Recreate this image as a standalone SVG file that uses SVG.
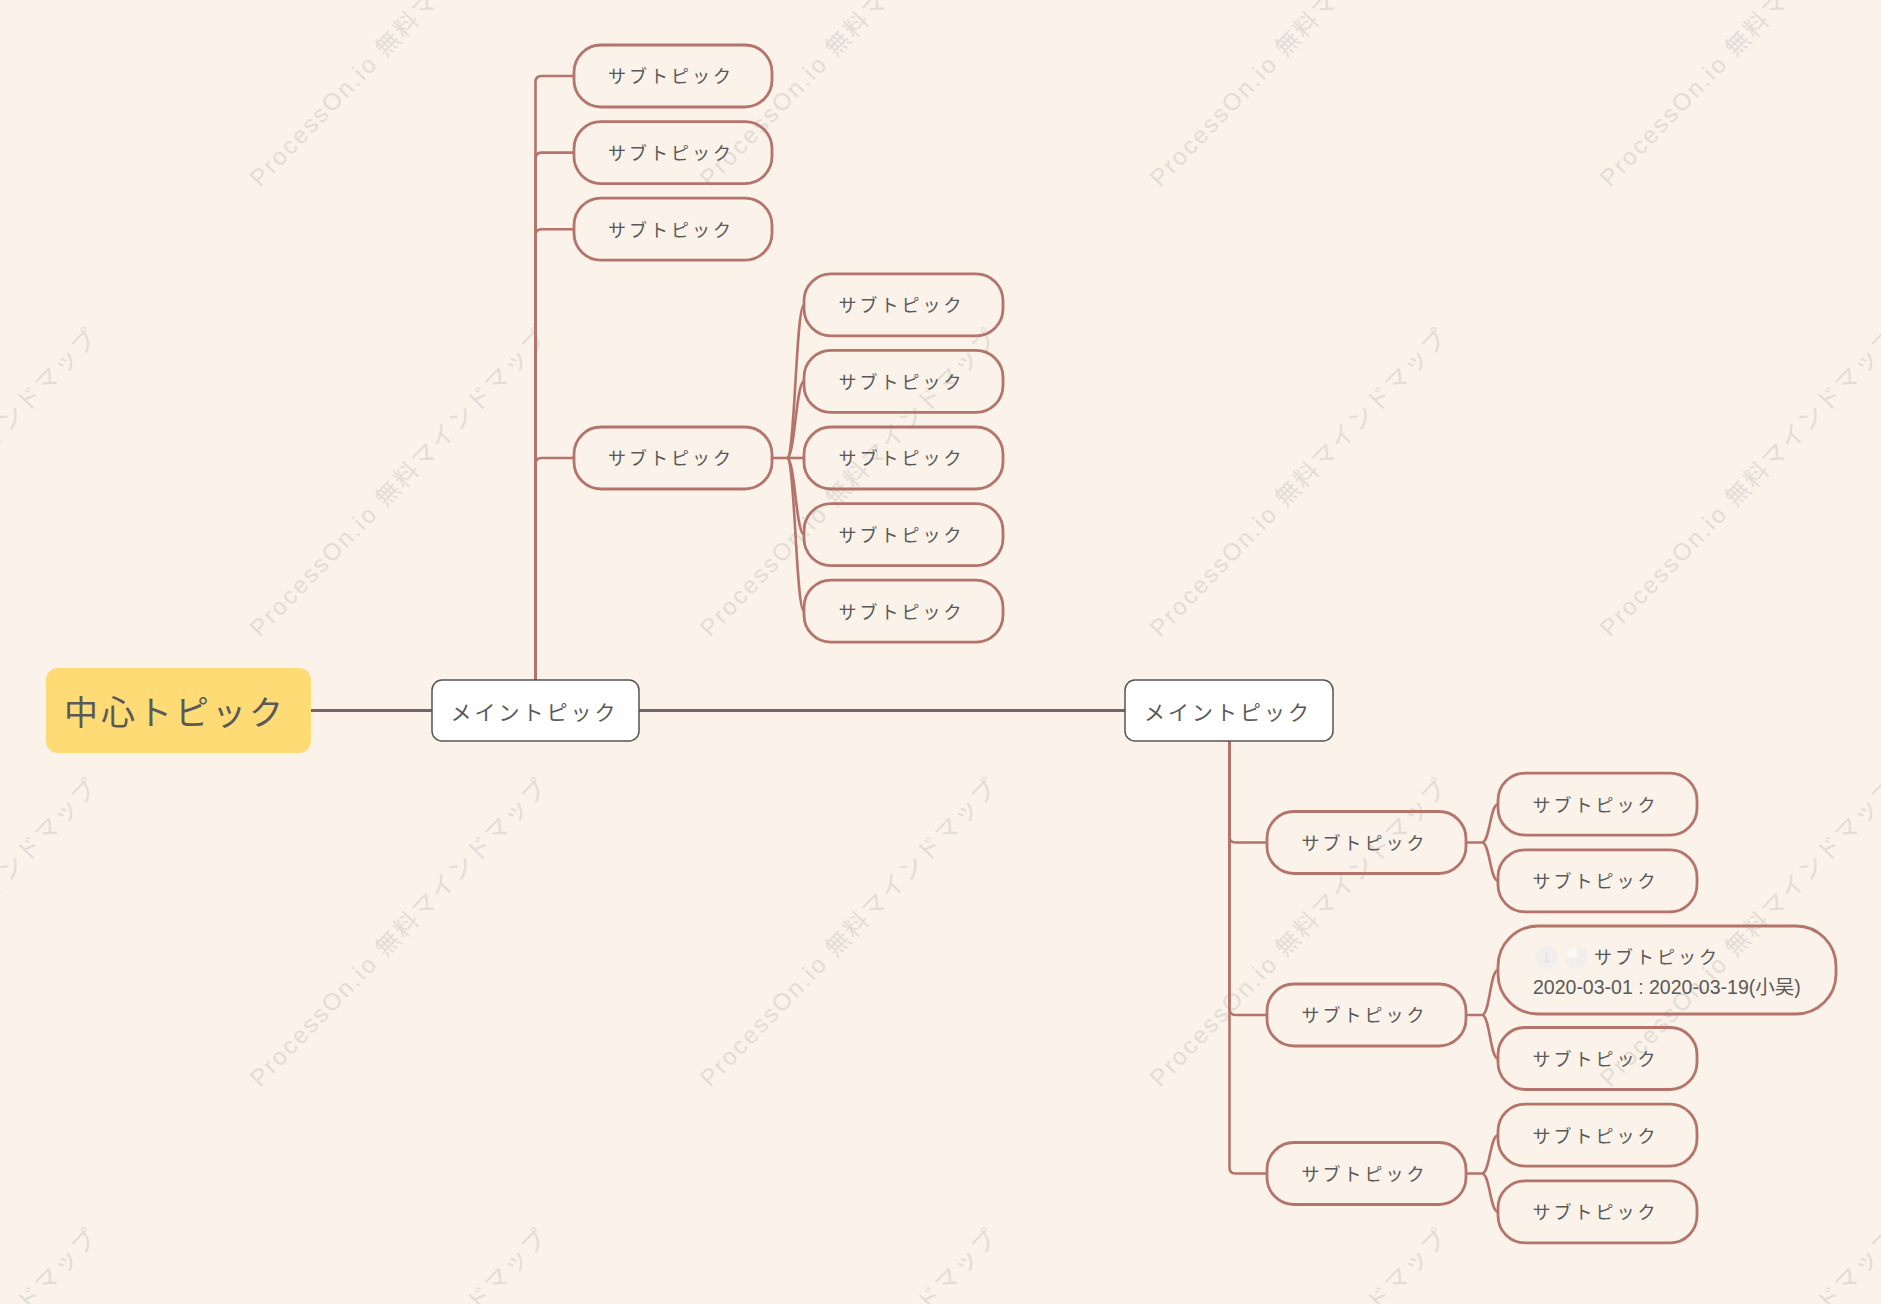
<svg xmlns="http://www.w3.org/2000/svg" width="1881" height="1304" viewBox="0 0 1881 1304">
<defs>
<style>
.wm{font-family:"Liberation Sans","Noto Sans CJK JP",sans-serif;font-size:24px;fill:#e2ddd6}
.pill{fill:none;stroke:#b4736b;stroke-width:2.8}
.sub{font-family:"Noto Sans CJK JP","Liberation Sans",sans-serif;font-size:18px;fill:#595959;letter-spacing:3px;text-anchor:middle}
.main{fill:#ffffff;stroke:#555555;stroke-width:1.5}
.maint{font-family:"Noto Sans CJK JP","Liberation Sans",sans-serif;font-size:21px;fill:#595959;letter-spacing:3px;text-anchor:middle}
.br{fill:none;stroke:#b4736b;stroke-width:2.6}
.trunk{fill:none;stroke:#7e5f65;stroke-width:3}
</style>
</defs>
<rect x="0" y="0" width="1881" height="1304" fill="#fbf2ea"/>
<g id="watermarks">
<text class="wm" transform="translate(-190,188) rotate(-46)" textLength="415" lengthAdjust="spacing">ProcessOn.io 無料マインドマップ</text>
<text class="wm" transform="translate(260,188) rotate(-46)" textLength="415" lengthAdjust="spacing">ProcessOn.io 無料マインドマップ</text>
<text class="wm" transform="translate(710,188) rotate(-46)" textLength="415" lengthAdjust="spacing">ProcessOn.io 無料マインドマップ</text>
<text class="wm" transform="translate(1160,188) rotate(-46)" textLength="415" lengthAdjust="spacing">ProcessOn.io 無料マインドマップ</text>
<text class="wm" transform="translate(1610,188) rotate(-46)" textLength="415" lengthAdjust="spacing">ProcessOn.io 無料マインドマップ</text>
<text class="wm" transform="translate(-190,638) rotate(-46)" textLength="415" lengthAdjust="spacing">ProcessOn.io 無料マインドマップ</text>
<text class="wm" transform="translate(260,638) rotate(-46)" textLength="415" lengthAdjust="spacing">ProcessOn.io 無料マインドマップ</text>
<text class="wm" transform="translate(710,638) rotate(-46)" textLength="415" lengthAdjust="spacing">ProcessOn.io 無料マインドマップ</text>
<text class="wm" transform="translate(1160,638) rotate(-46)" textLength="415" lengthAdjust="spacing">ProcessOn.io 無料マインドマップ</text>
<text class="wm" transform="translate(1610,638) rotate(-46)" textLength="415" lengthAdjust="spacing">ProcessOn.io 無料マインドマップ</text>
<text class="wm" transform="translate(-190,1088) rotate(-46)" textLength="415" lengthAdjust="spacing">ProcessOn.io 無料マインドマップ</text>
<text class="wm" transform="translate(260,1088) rotate(-46)" textLength="415" lengthAdjust="spacing">ProcessOn.io 無料マインドマップ</text>
<text class="wm" transform="translate(710,1088) rotate(-46)" textLength="415" lengthAdjust="spacing">ProcessOn.io 無料マインドマップ</text>
<text class="wm" transform="translate(1160,1088) rotate(-46)" textLength="415" lengthAdjust="spacing">ProcessOn.io 無料マインドマップ</text>
<text class="wm" transform="translate(1610,1088) rotate(-46)" textLength="415" lengthAdjust="spacing">ProcessOn.io 無料マインドマップ</text>
<text class="wm" transform="translate(-190,1538) rotate(-46)" textLength="415" lengthAdjust="spacing">ProcessOn.io 無料マインドマップ</text>
<text class="wm" transform="translate(260,1538) rotate(-46)" textLength="415" lengthAdjust="spacing">ProcessOn.io 無料マインドマップ</text>
<text class="wm" transform="translate(710,1538) rotate(-46)" textLength="415" lengthAdjust="spacing">ProcessOn.io 無料マインドマップ</text>
<text class="wm" transform="translate(1160,1538) rotate(-46)" textLength="415" lengthAdjust="spacing">ProcessOn.io 無料マインドマップ</text>
<text class="wm" transform="translate(1610,1538) rotate(-46)" textLength="415" lengthAdjust="spacing">ProcessOn.io 無料マインドマップ</text>
</g>
<g id="connectors">
<path class="trunk" d="M311 710.5 H432"/>
<path class="trunk" d="M639 710.5 H1125"/>
<path class="br" d="M535.5 680 V82 Q535.5 76 541.5 76 H574"/>
<path class="br" d="M535.5 680 V158.6 Q535.5 152.6 541.5 152.6 H574"/>
<path class="br" d="M535.5 680 V235.2 Q535.5 229.2 541.5 229.2 H574"/>
<path class="br" d="M535.5 680 V464 Q535.5 458 541.5 458 H574"/>
<path class="br" d="M772 458 H787"/>
<path class="br" d="M787 458 C795 458 796 304.8 804 304.8"/>
<path class="br" d="M787 458 C795 458 796 381.4 804 381.4"/>
<path class="br" d="M787 458 H804"/>
<path class="br" d="M787 458 C795 458 796 534.6 804 534.6"/>
<path class="br" d="M787 458 C795 458 796 611.2 804 611.2"/>
<path class="br" d="M1229.5 741 V836.5 Q1229.5 842.5 1235.5 842.5 H1267"/>
<path class="br" d="M1229.5 741 V1009 Q1229.5 1015 1235.5 1015 H1267"/>
<path class="br" d="M1229.5 741 V1167.5 Q1229.5 1173.5 1235.5 1173.5 H1267"/>
<path class="br" d="M1466 842.5 H1482 M1482 842.5 C1490 842.5 1490 804.2 1498 804.2 M1482 842.5 C1490 842.5 1490 880.8 1498 880.8"/>
<path class="br" d="M1466 1015 H1482 M1482 1015 C1490 1015 1490 970 1498 970 M1482 1015 C1490 1015 1490 1058.5 1498 1058.5"/>
<path class="br" d="M1466 1173.5 H1482 M1482 1173.5 C1490 1173.5 1490 1135.2 1498 1135.2 M1482 1173.5 C1490 1173.5 1490 1211.8 1498 1211.8"/>
</g>
<g id="central">
<rect x="46" y="668" width="265" height="85" rx="12" fill="#ffdb76"/>
<text x="175" y="725" style="font-family:'Noto Sans CJK JP','Liberation Sans',sans-serif;font-size:34px;fill:#595959;letter-spacing:3px;text-anchor:middle">中心トピック</text>
</g>
<g id="main1">
<rect class="main" x="432" y="680" width="207" height="61" rx="10"/>
<text class="maint" x="534.5" y="719.5">メイントピック</text>
</g>
<g id="main2">
<rect class="main" x="1125" y="680" width="208" height="61" rx="10"/>
<text class="maint" x="1228" y="719.5">メイントピック</text>
</g>
<g id="sub-l1"><rect class="pill" x="574" y="45" width="198" height="62" rx="27"/><text class="sub" x="671" y="83.3">サブトピック</text></g>
<g id="sub-l2"><rect class="pill" x="574" y="121.6" width="198" height="62" rx="27"/><text class="sub" x="671" y="159.9">サブトピック</text></g>
<g id="sub-l3"><rect class="pill" x="574" y="198.2" width="198" height="62" rx="27"/><text class="sub" x="671" y="236.5">サブトピック</text></g>
<g id="sub-l4"><rect class="pill" x="574" y="427" width="198" height="62" rx="27"/><text class="sub" x="671" y="465.3">サブトピック</text></g>
<g id="sub-l4-1"><rect class="pill" x="804" y="273.8" width="199" height="62" rx="27"/><text class="sub" x="901.5" y="312.1">サブトピック</text></g>
<g id="sub-l4-2"><rect class="pill" x="804" y="350.4" width="199" height="62" rx="27"/><text class="sub" x="901.5" y="388.7">サブトピック</text></g>
<g id="sub-l4-3"><rect class="pill" x="804" y="427" width="199" height="62" rx="27"/><text class="sub" x="901.5" y="465.3">サブトピック</text></g>
<g id="sub-l4-4"><rect class="pill" x="804" y="503.6" width="199" height="62" rx="27"/><text class="sub" x="901.5" y="541.9">サブトピック</text></g>
<g id="sub-l4-5"><rect class="pill" x="804" y="580.2" width="199" height="62" rx="27"/><text class="sub" x="901.5" y="618.5">サブトピック</text></g>
<g id="sub-rA"><rect class="pill" x="1267" y="811.5" width="199" height="62" rx="27"/><text class="sub" x="1364.5" y="849.8">サブトピック</text></g>
<g id="sub-rB"><rect class="pill" x="1267" y="984" width="199" height="62" rx="27"/><text class="sub" x="1364.5" y="1022.3">サブトピック</text></g>
<g id="sub-rC"><rect class="pill" x="1267" y="1142.5" width="199" height="62" rx="27"/><text class="sub" x="1364.5" y="1180.8">サブトピック</text></g>
<g id="sub-rA1"><rect class="pill" x="1498" y="773.2" width="199" height="62" rx="27"/><text class="sub" x="1595.5" y="811.5">サブトピック</text></g>
<g id="sub-rA2"><rect class="pill" x="1498" y="849.8" width="199" height="62" rx="27"/><text class="sub" x="1595.5" y="888.1">サブトピック</text></g>
<g id="sub-rB1">
<rect class="pill" x="1498" y="926" width="338" height="88" rx="40"/>
<circle cx="1546.5" cy="957.5" r="11.5" fill="#f1efed"/>
<text x="1546.5" y="962" style="font-family:'Liberation Sans',sans-serif;font-size:12px;fill:#e2dfdc;text-anchor:middle">1</text>
<circle cx="1577" cy="957.5" r="11" fill="#f1efed"/>
<path d="M1577 957.5 V947 A10.5 10.5 0 0 0 1566.5 957.5 Z" fill="#fbf8f5"/>
<text x="1594" y="964" style="font-family:'Noto Sans CJK JP','Liberation Sans',sans-serif;font-size:18px;fill:#595959;letter-spacing:3px">サブトピック</text>
<text x="1533" y="994" style="font-family:'Liberation Sans','Noto Sans CJK SC',sans-serif;font-size:19.5px;fill:#595959">2020-03-01 : 2020-03-19(小吴)</text>
</g>
<g id="sub-rB2"><rect class="pill" x="1498" y="1027.5" width="199" height="62" rx="27"/><text class="sub" x="1595.5" y="1065.8">サブトピック</text></g>
<g id="sub-rC1"><rect class="pill" x="1498" y="1104.2" width="199" height="62" rx="27"/><text class="sub" x="1595.5" y="1142.5">サブトピック</text></g>
<g id="sub-rC2"><rect class="pill" x="1498" y="1180.8" width="199" height="62" rx="27"/><text class="sub" x="1595.5" y="1219.1">サブトピック</text></g>
</svg>
